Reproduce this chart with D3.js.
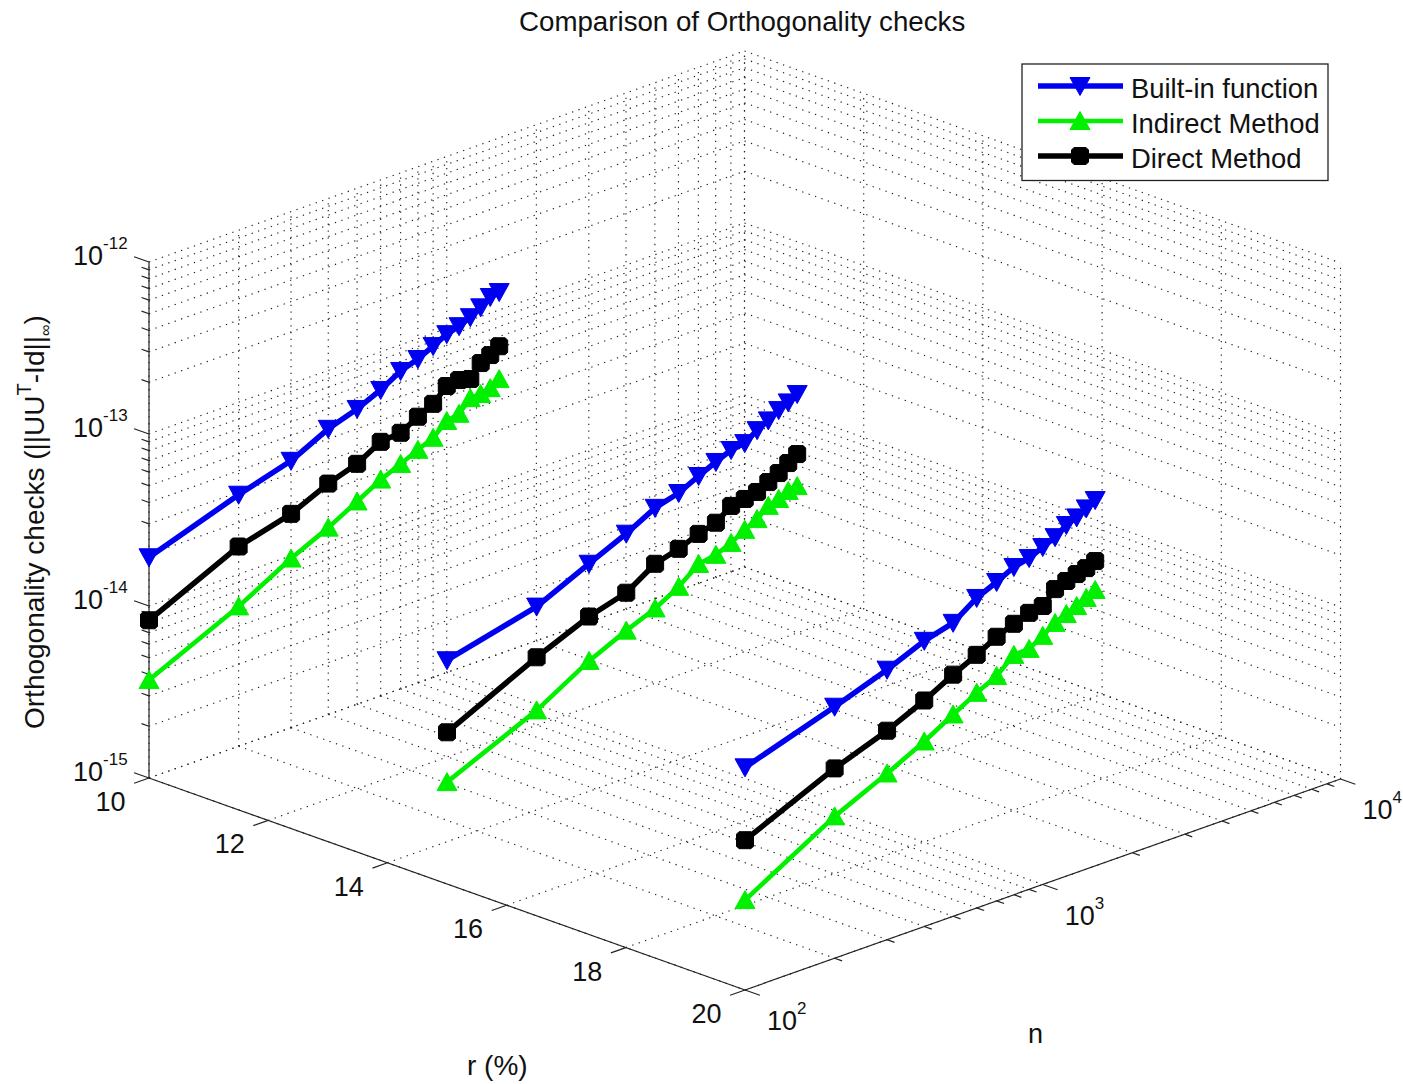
<!DOCTYPE html>
<html>
<head>
<meta charset="utf-8">
<script src="https://cdn.jsdelivr.net/npm/d3@7"></script>
<style>
  body { margin: 0; background: #fff; }
  text { font-family: "Liberation Sans", Arial, sans-serif; fill: #111; }
</style>
</head>
<body>
<div id="wrapper"></div>
<script>
const nValues = [100, 200, 300, 400, 500, 600, 700, 800, 900, 1000, 1100, 1200, 1300, 1400, 1500];
const rValues = [10, 15, 20];
const rTicks = [10, 12, 14, 16, 18, 20];

// values
const builtIn10 = [1.92e-14, 2.90e-14, 3.56e-14, 4.58e-14, 5.21e-14, 6.01e-14, 7.05e-14, 7.62e-14, 8.43e-14, 9.27e-14, 9.73e-14, 1.04e-13, 1.13e-13, 1.24e-13, 1.27e-13];
const builtIn15 = [2.00e-14, 2.68e-14, 3.71e-14, 4.65e-14, 5.73e-14, 6.25e-14, 7.14e-14, 7.94e-14, 8.67e-14, 8.91e-14, 1.00e-13, 1.08e-13, 1.18e-13, 1.25e-13, 1.34e-13];
const builtIn20 = [1.97e-14, 2.90e-14, 3.71e-14, 4.58e-14, 5.08e-14, 6.34e-14, 7.14e-14, 8.04e-14, 8.43e-14, 9.16e-14, 9.86e-14, 1.10e-13, 1.16e-13, 1.25e-13, 1.34e-13];
const indirect10 = [3.71e-15, 6.50e-15, 9.62e-15, 1.22e-14, 1.51e-14, 1.81e-14, 2.03e-14, 2.26e-14, 2.47e-14, 2.90e-14, 3.01e-14, 3.52e-14, 3.54e-14, 3.66e-14, 3.96e-14];
const indirect15 = [3.91e-15, 6.68e-15, 1.01e-14, 1.27e-14, 1.49e-14, 1.78e-14, 2.20e-14, 2.29e-14, 2.50e-14, 2.79e-14, 3.04e-14, 3.44e-14, 3.59e-14, 3.82e-14, 3.91e-14];
const indirect20 = [3.33e-15, 6.68e-15, 9.25e-15, 1.19e-14, 1.49e-14, 1.78e-14, 2.03e-14, 2.48e-14, 2.50e-14, 2.79e-14, 3.13e-14, 3.34e-14, 3.54e-14, 3.77e-14, 4.02e-14];
const direct10 = [8.26e-15, 1.45e-14, 1.75e-14, 2.20e-14, 2.50e-14, 3.00e-14, 3.08e-14, 3.52e-14, 3.89e-14, 4.63e-14, 4.73e-14, 4.55e-14, 5.36e-14, 5.70e-14, 6.15e-14];
const direct15 = [7.62e-15, 1.36e-14, 1.83e-14, 2.11e-14, 2.71e-14, 2.96e-14, 3.29e-14, 3.52e-14, 4.10e-14, 4.22e-14, 4.37e-14, 4.73e-14, 5.08e-14, 5.55e-14, 6.00e-14];
const direct20 = [7.43e-15, 1.27e-14, 1.64e-14, 2.06e-14, 2.54e-14, 2.96e-14, 3.43e-14, 3.76e-14, 4.05e-14, 4.16e-14, 4.92e-14, 5.20e-14, 5.43e-14, 5.62e-14, 5.92e-14];

const seriesNames = ["Built-in function", "Indirect Method", "Direct Method"];
const seriesColors = ["#0000f0", "#00f000", "#000000"];
const seriesValues = [
    [builtIn10, builtIn15, builtIn20],
    [indirect10, indirect15, indirect20],
    [direct10, direct15, direct20]
];

const dimension = { width: 1403, height: 1084 };

// the 3d box is an orthographic view, so three screen vectors are enough
const origin = { x: 149, y: 778 };
const rVector = { x: 596, y: 212 };
const nVector = { x: 595.5, y: -211 };
const zVector = { x: 0, y: -516 };

const rScaler = d3.scaleLinear().domain([10, 20]).range([0, 1]);
const nScaler = d3.scaleLog().domain([1e2, 1e4]).range([0, 1]);
const zScaler = d3.scaleLog().domain([1e-15, 1e-12]).range([0, 1]);

const project = (r, n, z) => [
    origin.x + rScaler(r) * rVector.x + nScaler(n) * nVector.x + zScaler(z) * zVector.x,
    origin.y + rScaler(r) * rVector.y + nScaler(n) * nVector.y + zScaler(z) * zVector.y
];

const svg = d3.select("#wrapper").append("svg")
    .attr("width", dimension.width)
    .attr("height", dimension.height);

const nAllTicks = nScaler.ticks();
const zAllTicks = zScaler.ticks();
const isDecade = (v) => Math.abs(Math.log10(v) - Math.round(Math.log10(v))) < 1e-6;

// grid: floor and the two back walls
const lineGen = d3.line();
const gridSegments = [];
nAllTicks.forEach(n => {
    gridSegments.push([project(10, n, 1e-15), project(10, n, 1e-12)]);
    gridSegments.push([project(10, n, 1e-15), project(20, n, 1e-15)]);
});
rTicks.forEach(r => {
    gridSegments.push([project(r, 1e2, 1e-15), project(r, 1e4, 1e-15)]);
    gridSegments.push([project(r, 1e4, 1e-15), project(r, 1e4, 1e-12)]);
});
zAllTicks.forEach(z => {
    gridSegments.push([project(10, 1e2, z), project(10, 1e4, z)]);
    gridSegments.push([project(10, 1e4, z), project(20, 1e4, z)]);
});

svg.append("g")
    .selectAll("path")
    .data(gridSegments)
    .join("path")
    .attr("d", lineGen)
    .attr("fill", "none")
    .attr("stroke", "#222")
    .attr("stroke-width", 1.15)
    .attr("stroke-dasharray", "1.3 5.5");

// axis lines and ticks
const axes = svg.append("g").attr("fill", "none").attr("stroke", "#222").attr("stroke-width", 1.2);
const addLine = (a, b) => axes.append("path").attr("d", lineGen([a, b]));

addLine(project(10, 1e2, 1e-15), project(20, 1e2, 1e-15));
addLine(project(20, 1e2, 1e-15), project(20, 1e4, 1e-15));
addLine(project(10, 1e2, 1e-15), project(10, 1e2, 1e-12));

rTicks.forEach(r => {
    const p = project(r, 1e2, 1e-15);
    addLine(p, [p[0] - nVector.x * 0.025, p[1] - nVector.y * 0.025]);
});
nAllTicks.forEach(n => {
    const p = project(20, n, 1e-15);
    const k = isDecade(n) ? 0.025 : 0.0125;
    addLine(p, [p[0] + rVector.x * k, p[1] + rVector.y * k]);
});
zAllTicks.forEach(z => {
    const p = project(10, 1e2, z);
    const k = isDecade(z) ? 0.025 : 0.0125;
    addLine(p, [p[0] - rVector.x * k, p[1] - rVector.y * k]);
});

// tick labels
const textSize = 27;
rTicks.forEach(r => {
    const p = project(r, 1e2, 1e-15);
    svg.append("text")
        .attr("x", p[0] - 23.5)
        .attr("y", p[1] + 33)
        .attr("text-anchor", "end")
        .attr("font-size", textSize)
        .text(r);
});

function powerLabel(x, y, exponent) {
    const t = svg.append("text").attr("x", x).attr("y", y).attr("font-size", textSize);
    t.append("tspan").text("10");
    t.append("tspan").attr("font-size", 17).attr("dy", -16).text(exponent);
}

nAllTicks.filter(isDecade).forEach(n => {
    const p = project(20, n, 1e-15);
    powerLabel(p[0] + 22, p[1] + 40, Math.round(Math.log10(n)));
});
zAllTicks.filter(isDecade).forEach(z => {
    const p = project(10, 1e2, z);
    powerLabel(73, p[1] + 3, Math.round(Math.log10(z)));
});

// markers are drawn around 0,0
const markerPaths = [
    "M-10,-8.5L10,-8.5L0,9.5Z",
    "M0,-9.5L10,8.5L-10,8.5Z",
    "M-6,-8.5H6L8.5,-6V6L6,8.5H-6L-8.5,6V-6Z"
];
const lineWidths = [5.5, 4.6, 5.5];

// series: one polyline per r value
seriesValues.forEach((group, s) => {
    const g = svg.append("g");
    group.forEach((values, i) => {
        const pts = values.map((v, j) => project(rValues[i], nValues[j], v));
        g.append("path")
            .attr("d", lineGen(pts))
            .attr("fill", "none")
            .attr("stroke", seriesColors[s])
            .attr("stroke-width", lineWidths[s])
            .attr("stroke-linejoin", "round");
        g.selectAll(null)
            .data(pts)
            .join("path")
            .attr("d", markerPaths[s])
            .attr("transform", d => `translate(${d[0]},${d[1]})`)
            .attr("fill", seriesColors[s])
            .attr("stroke", seriesColors[s])
            .attr("stroke-width", 1);
    });
});

// title and axis labels
svg.append("text").attr("x", 519).attr("y", 31).attr("font-size", 27.7).text("Comparison of Orthogonality checks");
svg.append("text").attr("x", 467).attr("y", 1075).attr("font-size", 28).text("r (%)");
svg.append("text").attr("x", 1028).attr("y", 1043).attr("font-size", textSize).text("n");

const yLabel = svg.append("text")
    .attr("transform", "translate(44,729) rotate(-90)")
    .attr("font-size", 28);
yLabel.append("tspan").text("Orthogonality checks (||UU");
yLabel.append("tspan").attr("font-size", 20).attr("dy", -13).text("T");
yLabel.append("tspan").attr("dy", 13).text("-Id||");
yLabel.append("tspan").attr("font-size", 16).attr("dy", 7).text("\u221E");
yLabel.append("tspan").attr("dy", -7).text(")");

// legend
const legend = svg.append("g");
legend.append("rect")
    .attr("x", 1022).attr("y", 64)
    .attr("width", 306).attr("height", 116.5)
    .attr("fill", "#fff")
    .attr("stroke", "#222")
    .attr("stroke-width", 1.3);
const legendY = d3.scalePoint().domain(seriesNames).range([86, 156]);
seriesNames.forEach((name, s) => {
    const y = legendY(name);
    legend.append("path")
        .attr("d", lineGen([[1038, y], [1123, y]]))
        .attr("stroke", seriesColors[s])
        .attr("stroke-width", lineWidths[s]);
    legend.append("path")
        .attr("d", markerPaths[s])
        .attr("transform", `translate(1080,${y})`)
        .attr("fill", seriesColors[s])
        .attr("stroke", seriesColors[s])
        .attr("stroke-width", 1);
    legend.append("text")
        .attr("x", 1131)
        .attr("y", y + 11.5)
        .attr("font-size", 27.4)
        .text(name);
});
</script>
</body>
</html>
